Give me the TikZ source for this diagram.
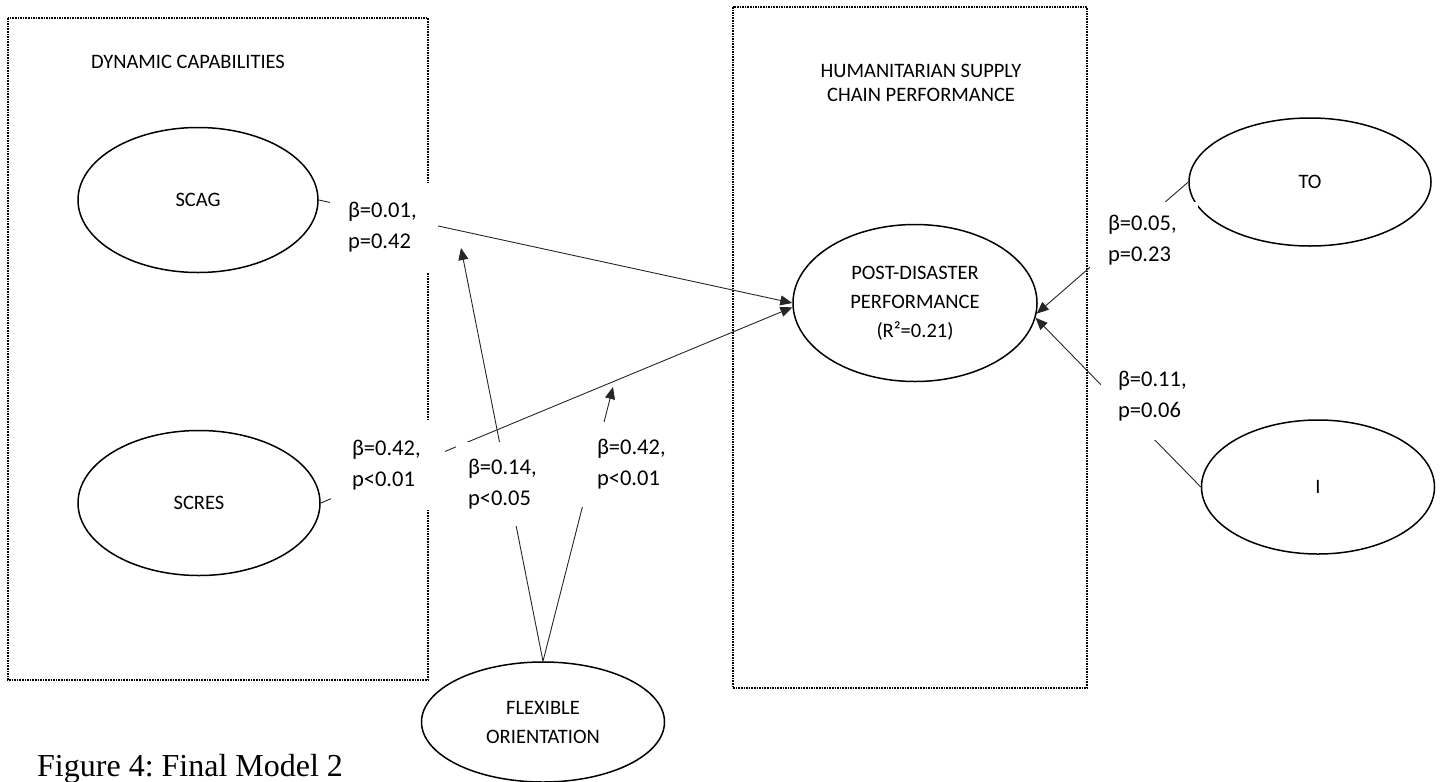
\documentclass[tikz,border=0pt]{standalone}
\usepackage{fontspec}
\setmainfont{Carlito}
\newfontfamily\capfont{Liberation Serif}
\usetikzlibrary{arrows.meta,shapes.geometric}
\frenchspacing
\begin{document}
\begin{tikzpicture}[x=1pt,y=-1pt,
  latent/.style={ellipse, draw=black, line width=1.5pt, inner sep=0pt, font=\fontsize{20.5}{29}\selectfont, align=center},
  grp/.style={draw=black, densely dotted, line width=1.6pt},
  conn/.style={draw=black!85, line width=0.9pt},
  arr/.style={conn, -{Triangle[length=12pt,width=10pt]}},
  lbl/.style={fill=white, inner sep=0pt, text width=72pt, align=left, font=\fontsize{22.5}{31}\selectfont},
  head/.style={font=\fontsize{20.5}{24}\selectfont, align=center, inner sep=0pt}]
\useasboundingbox (0,0) rectangle (1441,782);
% group boxes
\draw[grp] (8,18) rectangle (428,680);
\draw[grp] (733,7) rectangle (1087,688);
\node[head] (dch) at (188,62) {DYNAMIC CAPABILITIES};
\node[head] (hsch) at (921,83) {HUMANITARIAN SUPPLY\\CHAIN PERFORMANCE};
% constructs
\node[latent, minimum width=240pt, minimum height=145pt] (scag) at (198,200) {SCAG};
\node[latent, minimum width=242pt, minimum height=145pt] (scres) at (199,503) {SCRES};
\node[latent, minimum width=244pt, minimum height=157pt] (pdp) at (915,303) {POST-DISASTER\\PERFORMANCE\\(R²=0.21)};
\node[latent, minimum width=242pt, minimum height=128pt] (to) at (1310,182) {TO};
\node[latent, minimum width=233pt, minimum height=134pt] (i) at (1318,487) {I};
\node[latent, minimum width=243pt, minimum height=120pt] (fo) at (543,722) {FLEXIBLE\\ORIENTATION};
% connectors
\coordinate (m1) at (461,248);
\coordinate (m2) at (613,387);
\draw[arr] (scag.east) -- (pdp.west);
\draw[arr] (scres.east) -- (pdp.182);
\draw[arr] (fo.north) -- (m1);
\draw[arr] (fo.north) -- (m2);
\draw[arr] (to.west) -- (pdp.-5);
\draw[arr] (i.west) -- (pdp.-7);
% path labels
\node[lbl, minimum width=108pt, minimum height=89pt] (l1) at (384,227) {β=0.01,\\p=0.42};
\node[lbl, minimum width=114pt, minimum height=90pt] (l2) at (388,465) {β=0.42,\\p<0.01};
\node[lbl, minimum width=96pt, minimum height=84pt] (l3) at (504,484) {β=0.14,\\p<0.05};
\node[lbl, minimum width=108pt, minimum height=85pt] (l4) at (633,464) {β=0.42,\\p<0.01};
\node[lbl, minimum width=108pt, minimum height=77pt] (l5) at (1144,240) {β=0.05,\\p=0.23};
\node[lbl, minimum width=106pt, minimum height=88pt] (l6) at (1154,396) {β=0.11,\\p=0.06};
% caption
\node[anchor=base west, inner sep=0pt, font=\capfont\fontsize{32}{32}\selectfont] (cap) at (37,776) {Figure 4: Final Model 2};
\end{tikzpicture}
\end{document}
